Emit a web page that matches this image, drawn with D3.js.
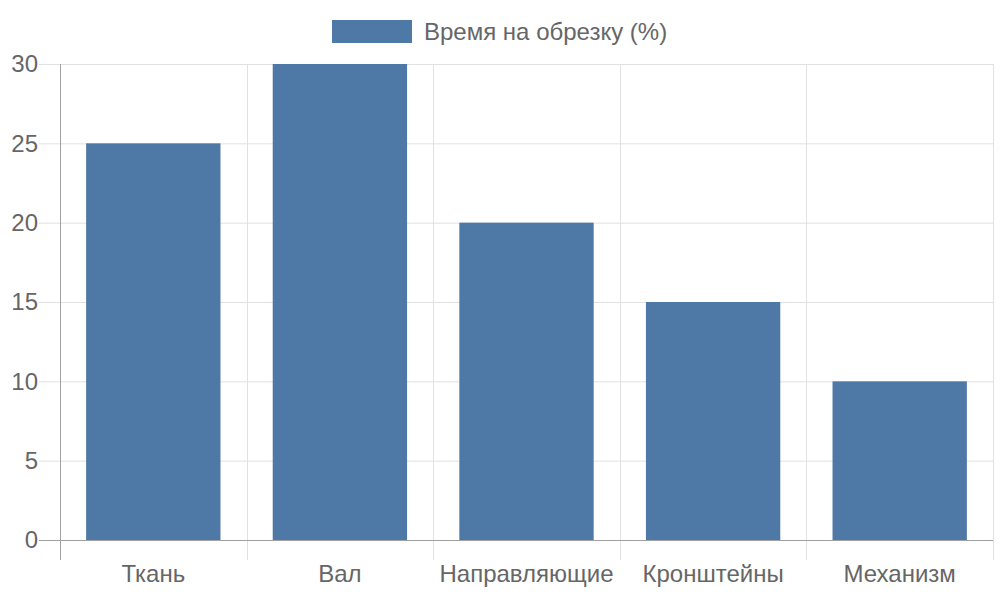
<!DOCTYPE html>
<html>
<head>
<meta charset="utf-8">
<script src="https://cdn.jsdelivr.net/npm/d3@7"></script>
<style>
  body { margin: 0; background: #fff; }
  svg { font-family: "Liberation Sans", Arial, sans-serif; }
</style>
</head>
<body>
<script>
// chart data
const categories = ["Ткань", "Вал", "Направляющие", "Кронштейны", "Механизм"];
const values = [25, 30, 20, 15, 10];
const yTicks = [0, 5, 10, 15, 20, 25, 30];
const seriesName = "Время на обрезку (%)";

const width = 1000, height = 600;
const margin = {top: 64, right: 7, bottom: 60, left: 60};
const barColor = "#4e79a7";
const fontSize = 24;

const svg = d3.select("body").append("svg")
    .attr("width", width)
    .attr("height", height);

const x = d3.scaleBand()
    .domain(categories)
    .range([margin.left, width - margin.right]);

const y = d3.scaleLinear()
    .domain([0, 30])
    .range([height - margin.bottom, margin.top]);

// horizontal grid + y ticks
svg.append("g").selectAll("line")
    .data(yTicks)
    .enter().append("line")
    .attr("x1", margin.left - 21)
    .attr("x2", width - margin.right)
    .attr("y1", d => y(d) + 0.5)
    .attr("y2", d => y(d) + 0.5)
    .attr("stroke", "#e1e1e1")
    .attr("stroke-width", 1);

// vertical grid + x ticks at band boundaries
const bounds = categories.map(c => x(c)).concat([x.range()[1]]);
svg.append("g").selectAll("line")
    .data(bounds)
    .enter().append("line")
    .attr("x1", d => Math.round(d) + 0.5)
    .attr("x2", d => Math.round(d) + 0.5)
    .attr("y1", margin.top)
    .attr("y2", height - margin.bottom + 20)
    .attr("stroke", "#e1e1e1")
    .attr("stroke-width", 1);

// bars (Chart.js style: 0.8 * 0.9 of the band)
const inner = x.bandwidth() * 0.72;
svg.append("g").selectAll("rect")
    .data(values)
    .enter().append("rect")
    .attr("x", (d, i) => x(categories[i]) + (x.bandwidth() - inner) / 2)
    .attr("width", inner)
    .attr("y", d => y(d))
    .attr("height", d => y(0) - y(d))
    .attr("fill", barColor);

// axis lines
svg.append("line")
    .attr("x1", margin.left + 0.5).attr("x2", margin.left + 0.5)
    .attr("y1", margin.top).attr("y2", height - margin.bottom + 20)
    .attr("stroke", "#a0a0a0");
svg.append("line")
    .attr("x1", margin.left - 21).attr("x2", width - margin.right)
    .attr("y1", y(0) + 0.5).attr("y2", y(0) + 0.5)
    .attr("stroke", "#a0a0a0");

// y labels
svg.append("g").selectAll("text")
    .data(yTicks)
    .enter().append("text")
    .attr("x", margin.left - 22)
    .attr("y", d => y(d))
    .attr("dy", "0.35em")
    .attr("text-anchor", "end")
    .attr("font-size", fontSize)
    .attr("fill", "#666")
    .text(d => d);

// x labels
svg.append("g").selectAll("text")
    .data(categories)
    .enter().append("text")
    .attr("x", d => x(d) + x.bandwidth() / 2)
    .attr("y", height - margin.bottom + 34)
    .attr("dy", "0.35em")
    .attr("text-anchor", "middle")
    .attr("font-size", fontSize)
    .attr("fill", "#666")
    .text(d => d);

// legend
const legend = svg.append("g");
legend.append("rect")
    .attr("x", 332).attr("y", 20)
    .attr("width", 80).attr("height", 23)
    .attr("fill", barColor);
legend.append("text")
    .attr("x", 424).attr("y", 32)
    .attr("dy", "0.35em")
    .attr("font-size", fontSize)
    .attr("fill", "#666")
    .text(seriesName);
</script>
</body>
</html>
